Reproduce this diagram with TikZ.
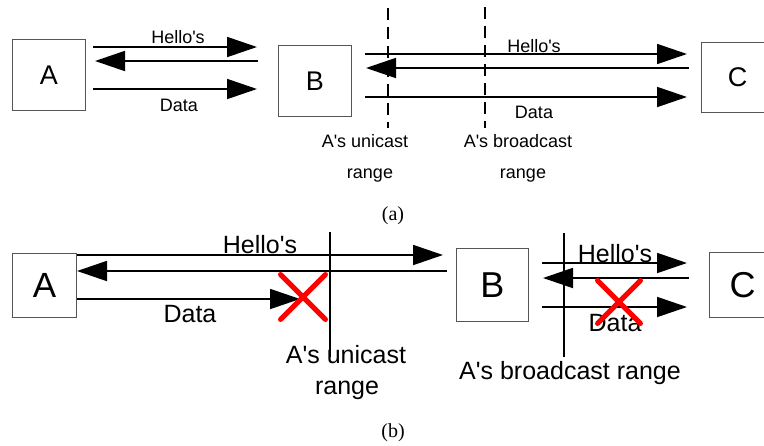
\documentclass[tikz,border=0pt]{standalone}
\usepackage{fontspec}
\setmainfont{Liberation Sans}
\newfontfamily\capfont{Liberation Serif}
\usetikzlibrary{arrows.meta,shapes.misc}

\tikzstyle{station}=[draw={box-edge}, line width=1pt, inner sep=0pt, anchor=north west]
\tikzstyle{msg-arrow}=[line width=1.8pt, -{Triangle[length=30pt,width=20pt]}]
\tikzstyle{range-solid}=[line width=1.8pt]
\tikzstyle{range-dashed}=[line width=1.5pt, dash pattern=on 12pt off 7pt]
\tikzstyle{lost}=[cross out, draw={lost-red}, line width=5pt, line cap=round, inner sep=0pt]
\tikzstyle{label-a}=[font=\fontsize{18}{20}\selectfont, anchor=base, inner sep=0pt]
\tikzstyle{label-b}=[font=\fontsize{25}{28}\selectfont, anchor=base, inner sep=0pt]
\tikzstyle{caption}=[font=\capfont\fontsize{20}{22}\selectfont, anchor=base, inner sep=0pt]
\definecolor{box-edge}{HTML}{555555}
\definecolor{lost-red}{HTML}{ff0000}
\newcommand{\Aposs}{A\textquotesingle s}

\begin{document}
\begin{tikzpicture}[x=1pt, y=-1pt]
      \useasboundingbox (0,0) rectangle (764,445);
      \clip (0,0) rectangle (764,445);

      % (a) all hello's get through
      \node (A1) at (12,39) [station, minimum width=73pt, minimum height=71pt,
            font=\fontsize{27}{30}\selectfont] {A};
      \node (B1) at (278,45) [station, minimum width=73pt, minimum height=71pt,
            font=\fontsize{27}{30}\selectfont] {B};
      \node (C1) at (701,42) [station, minimum width=72pt, minimum height=70pt,
            font=\fontsize{27}{30}\selectfont] {C};

      \coordinate (ab-hello-s) at (93,47);  \coordinate (ab-hello-e) at (257,47);
      \coordinate (ba-hello-s) at (258,61); \coordinate (ba-hello-e) at (95,61);
      \coordinate (ab-data-s) at (93,89);   \coordinate (ab-data-e) at (257,89);
      \coordinate (bc-hello-s) at (365,54); \coordinate (bc-hello-e) at (687,54);
      \coordinate (cb-hello-s) at (689,68); \coordinate (cb-hello-e) at (366,68);
      \coordinate (bc-data-s) at (365,97);  \coordinate (bc-data-e) at (687,97);

      \draw[msg-arrow] (ab-hello-s) -- (ab-hello-e);
      \draw[msg-arrow] (ba-hello-s) -- (ba-hello-e);
      \draw[msg-arrow] (ab-data-s) -- (ab-data-e);
      \draw[msg-arrow] (bc-hello-s) -- (bc-hello-e);
      \draw[msg-arrow] (cb-hello-s) -- (cb-hello-e);
      \draw[msg-arrow] (bc-data-s) -- (bc-data-e);

      \draw[range-dashed] (388,8) -- (388,128);
      \draw[range-dashed] (485,7) -- (485,128);

      \node (a-hello1) at (178,43) [label-a] {Hello\textquotesingle s};
      \node (a-data1) at (179,111) [label-a] {Data};
      \node (a-hello2) at (534,52) [label-a] {Hello\textquotesingle s};
      \node (a-data2) at (534,118) [label-a] {Data};
      \node (a-uni) at (365,147) [label-a] {\Aposs{} unicast};
      \node (a-uni2) at (370,178) [label-a] {range};
      \node (a-bc) at (518,147) [label-a] {\Aposs{} broadcast};
      \node (a-bc2) at (523,178) [label-a] {range};
      \node (cap-a) at (393,220) [caption] {(a)};

      % (b) data beyond the unicast range is lost
      \node (A2) at (12,253) [station, minimum width=64pt, minimum height=64pt,
            font=\fontsize{35}{38}\selectfont] {A};
      \node (B2) at (456,248) [station, minimum width=72pt, minimum height=73pt,
            font=\fontsize{36}{38}\selectfont] {B};
      \node (C2) at (709,252) [station, minimum width=66pt, minimum height=65pt,
            font=\fontsize{36}{38}\selectfont] {C};

      \coordinate (ab2-hello-e) at (443,255);
      \coordinate (ba2-hello-s) at (447,271);
      \coordinate (ab2-data-e) at (300,299);
      \coordinate (bc2-hello-s) at (542,263); \coordinate (bc2-hello-e) at (687,263);
      \coordinate (cb2-hello-s) at (689,278); \coordinate (cb2-hello-e) at (543,278);
      \coordinate (bc2-data-s) at (542,307);  \coordinate (bc2-data-e) at (687,307);

      \draw[msg-arrow] (A2.east |- ab2-hello-e) -- (ab2-hello-e);
      \draw[msg-arrow] (ba2-hello-s) -- (A2.east |- ba2-hello-s);
      \draw[msg-arrow] (A2.east |- ab2-data-e) -- (ab2-data-e);
      \draw[msg-arrow] (bc2-hello-s) -- (bc2-hello-e);
      \draw[msg-arrow] (cb2-hello-s) -- (cb2-hello-e);
      \draw[msg-arrow] (bc2-data-s) -- (bc2-data-e);

      \draw[range-solid] (330,232) -- (330,357);
      \draw[range-solid] (564,233) -- (564,357);

      \node (b-hello1) at (260,253) [label-b] {Hello\textquotesingle s};
      \node (b-data1) at (190,322) [label-b] {Data};
      \node (b-hello2) at (615,262) [label-b] {Hello\textquotesingle s};
      \node (b-data2) at (615,331) [label-b] {Data};
      \node (b-uni) at (346,363) [label-b] {\Aposs{} unicast};
      \node (b-uni2) at (347,394) [label-b] {range};
      \node (b-bc) at (570,379) [label-b] {\Aposs{} broadcast range};

      \node (lost1) at (303,297) [lost, minimum size=40pt] {};
      \node (lost2) at (619,302) [lost, minimum size=38pt] {};

      \node (cap-b) at (393,437) [caption] {(b)};
    \end{tikzpicture}
\end{document}
